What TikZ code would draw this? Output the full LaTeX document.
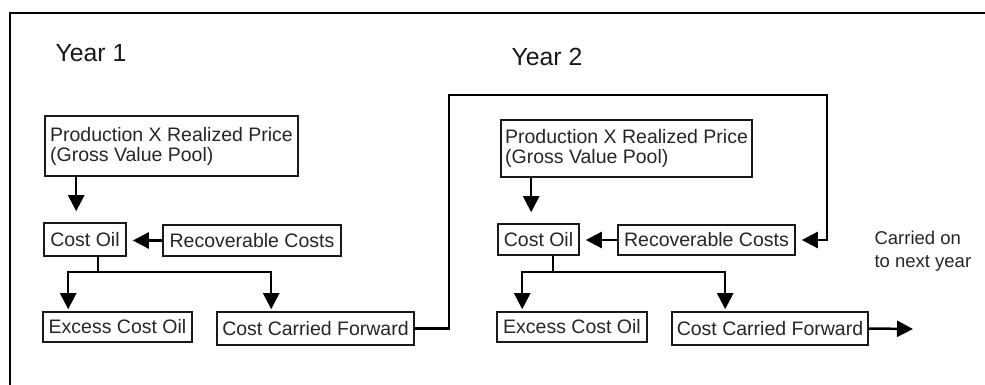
\documentclass[tikz,border=0pt]{standalone}
\usepackage{fontspec}
\setmainfont{Liberation Sans}
\usetikzlibrary{arrows.meta,calc}
\begin{document}
\begin{tikzpicture}[x=1pt,y=-1pt,
  box/.style={draw=black!90, line width=1.6pt, inner sep=0pt, text=black!85,
    font=\fontsize{19.5}{20}\selectfont, align=center},
  arr/.style={line width=2.5pt, -{Triangle[width=16pt,length=16pt]}},
  wire/.style={line width=2.5pt},
  heading/.style={anchor=base west, text=black!90, font=\fontsize{24.8}{28}\selectfont}]
  \useasboundingbox (0,0) rectangle (985,385);
  \fill[white] (0,0) rectangle (985,385);
  % outer frame (top and left edges)
  \draw[line width=2pt] (10,385) -- (10,13) -- (985,13);

  % headings
  \node[heading] (y1) at (52,62) {Year 1};
  \node[heading] (y2) at (508,66) {Year 2};

  % year 1 boxes
  \node[box, minimum width=253, minimum height=60, align=left] (prod1) at (171.5,146)
    {Production X Realized Price\\(Gross Value Pool)};
  \node[box, minimum width=82, minimum height=33] (cost1) at (85,239.5) {Cost Oil};
  \node[box, minimum width=178, minimum height=31] (rec1) at (252,240.5) {Recoverable Costs};
  \node[box, minimum width=149, minimum height=30] (exc1) at (117.5,327) {Excess Cost Oil};
  \node[box, minimum width=197, minimum height=33] (ccf1) at (315.5,328.5) {Cost Carried Forward};

  % year 2 boxes
  \node[box, minimum width=251, minimum height=57, align=left] (prod2) at (626.5,148.5)
    {Production X Realized Price\\(Gross Value Pool)};
  \node[box, minimum width=81, minimum height=31] (cost2) at (538.5,239.5) {Cost Oil};
  \node[box, minimum width=177, minimum height=30] (rec2) at (706.5,240) {Recoverable Costs};
  \node[box, minimum width=150, minimum height=30] (exc2) at (572,327) {Excess Cost Oil};
  \node[box, minimum width=196, minimum height=33] (ccf2) at (770,328.5) {Cost Carried Forward};

  \node[anchor=base west, align=left, text=black!85, font=\fontsize{18.5}{23}\selectfont] (note) at (871,267)
    {Carried on\\to next year};

  % junction and routing points
  \coordinate (j1) at (98,272);
  \coordinate (j2) at (553,272);
  \coordinate (r1) at (449,95);
  \coordinate (r2) at (827,95);
  \coordinate (next) at (913,329);

  % year 1 flow
  \draw[arr, shorten >=11pt] ([xshift=32pt]prod1.south west) -- ([xshift=32pt]prod1.south west |- cost1.north);
  \draw[arr, shorten >=6pt] (rec1.west) -- (rec1.west -| cost1.east);
  \draw[wire] (cost1.south -| j1) -- (j1);
  \draw[arr, shorten >=2pt] (j1) -| ([xshift=26pt]exc1.north west);
  \draw[arr, shorten >=2pt] (j1) -| ([xshift=55pt]ccf1.north west);

  % carry-over into year 2
  \draw[arr, shorten >=6pt] (ccf1.east) -| (r1) -- (r2) |- (rec2.east);

  % year 2 flow
  \draw[arr, shorten >=11pt] ([xshift=31pt]prod2.south west) -- ([xshift=31pt]prod2.south west |- cost2.north);
  \draw[arr, shorten >=6pt] (rec2.west) -- (rec2.west -| cost2.east);
  \draw[wire] (cost2.south -| j2) -- (j2);
  \draw[arr, shorten >=2pt] (j2) -| ([xshift=26pt]exc2.north west);
  \draw[arr, shorten >=2pt] (j2) -| ([xshift=54pt]ccf2.north west);
  \draw[arr] (ccf2.east) -- (next);
\end{tikzpicture}
\end{document}
